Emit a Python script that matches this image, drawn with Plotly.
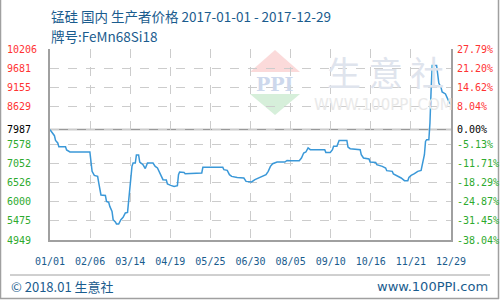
import plotly.graph_objects as go
import pandas as pd

# ---------------- data ----------------
dates = [
    "2017-01-01", "2017-01-03", "2017-01-05", "2017-01-06", "2017-01-08", "2017-01-09",
    "2017-01-15", "2017-01-16", "2017-01-19", "2017-02-06", "2017-02-07", "2017-02-08",
    "2017-02-10", "2017-02-13", "2017-02-14", "2017-02-15", "2017-02-16", "2017-02-20",
    "2017-02-21", "2017-02-23", "2017-02-24", "2017-02-26", "2017-02-27", "2017-03-01",
    "2017-03-02", "2017-03-04", "2017-03-06", "2017-03-08", "2017-03-10", "2017-03-12",
    "2017-03-13", "2017-03-14", "2017-03-15", "2017-03-16", "2017-03-17", "2017-03-19",
    "2017-03-20", "2017-03-22", "2017-03-23", "2017-03-26", "2017-03-28", "2017-03-30",
    "2017-04-04", "2017-04-06", "2017-04-08", "2017-04-10", "2017-04-11", "2017-04-13",
    "2017-04-16", "2017-04-17", "2017-04-20", "2017-04-23", "2017-04-26", "2017-04-27",
    "2017-04-28", "2017-05-02", "2017-05-03", "2017-05-09", "2017-05-10", "2017-05-18",
    "2017-05-19", "2017-06-06", "2017-06-07", "2017-06-10", "2017-06-12", "2017-06-14",
    "2017-06-19", "2017-06-25", "2017-06-27", "2017-07-02", "2017-07-05", "2017-07-07",
    "2017-07-10", "2017-07-15", "2017-07-17", "2017-07-19", "2017-07-21", "2017-07-25",
    "2017-08-01", "2017-08-03", "2017-08-06", "2017-08-14", "2017-08-16", "2017-08-18",
    "2017-08-20", "2017-08-22", "2017-08-24", "2017-09-06", "2017-09-07", "2017-09-11",
    "2017-09-13", "2017-09-14", "2017-09-17", "2017-09-19", "2017-09-26", "2017-09-27",
    "2017-09-29", "2017-10-08", "2017-10-09", "2017-10-11", "2017-10-16", "2017-10-17",
    "2017-10-22", "2017-10-23", "2017-10-28", "2017-10-31", "2017-11-01", "2017-11-06",
    "2017-11-07", "2017-11-10", "2017-11-14", "2017-11-17", "2017-11-20", "2017-11-21",
    "2017-11-23", "2017-11-26", "2017-11-29", "2017-12-02", "2017-12-03", "2017-12-05",
    "2017-12-06", "2017-12-07", "2017-12-09", "2017-12-10", "2017-12-11", "2017-12-12",
    "2017-12-16", "2017-12-17", "2017-12-18", "2017-12-20", "2017-12-21", "2017-12-24",
    "2017-12-26", "2017-12-27", "2017-12-29",
]
prices = [
    7987, 7894, 7820, 7691, 7619, 7517,
    7517, 7426, 7371, 7371, 7113, 6838,
    6727, 6700, 6518, 6306, 6188, 6177,
    6012, 5984, 5874, 5737, 5508, 5445,
    5390, 5390, 5508, 5572, 5693, 5709,
    6059, 6334, 6774, 6975, 7069, 7069,
    7289, 7289, 7090, 7020, 6915, 7069,
    7069, 6975, 6931, 6794, 6727, 6609,
    6601, 6491, 6452, 6425, 6444, 6747,
    6821, 6810, 6774, 6774, 6794, 6794,
    6948, 6948, 6884, 6865, 6747, 6700,
    6672, 6656, 6562, 6546, 6609, 6637,
    6660, 6747, 6838, 6975, 7049, 7096,
    7096, 7140, 7132, 7132, 7206, 7344,
    7371, 7482, 7435, 7435, 7360, 7360,
    7435, 7526, 7526, 7691, 7691, 7509,
    7462, 7435, 7297, 7206, 7179, 7096,
    7085, 7022, 6975, 6931, 6857, 6838,
    6766, 6727, 6656, 6582, 6582, 6672,
    6727, 6774, 6838, 6865, 7022, 7297,
    7663, 7710, 7710, 8170, 9039, 9755,
    9755, 9518, 9270, 9149, 9023, 8968,
    8811, 8764, 8673,
]

x_start = "2017-01-01"
x_end = "2017-12-29"
x_tick_labels = ["01/01", "02/06", "03/14", "04/19", "05/25", "06/30",
                 "08/05", "09/10", "10/16", "11/21", "12/29"]

base_price = 7987
y_tick_values = [10206, 9681, 9155, 8629, 7987, 7578, 7052, 6526, 6000, 5475, 4949]
y_right_labels = ["27.79%", "21.20%", "14.62%", "8.04%", "0.00%", "-5.13%",
                  "-11.71%", "-18.29%", "-24.87%", "-31.45%", "-38.04%"]

title_line1 = "锰硅 国内 生产者价格 2017-01-01 - 2017-12-29"
title_line2 = "牌号:FeMn68Si18"
footer_left = "© 2018.01 生意社"
footer_right = "www.100PPI.com"
wm_text = "生 意 社"
wm_url = "WWW.100PPI.COM"

# ---------------- layout helpers (pixel -> paper) ----------------
W, H = 500, 300
L, R, T, B = 50, 49, 49, 60
PW, PH = W - L - R, H - T - B


def px(x):
    return (x - L) / PW


def py(y):
    return (H - B - y) / PH


BLUE_TXT = "#1a5c8e"
RED = "#ff3333"
GREEN = "#2eaa2e"
MONO = "DejaVu Sans Mono"
CJK = "Noto Sans CJK SC"

tick_positions = pd.date_range(x_start, x_end, periods=len(x_tick_labels))

fig = go.Figure()
fig.add_trace(go.Scatter(
    x=dates, y=prices, mode="lines",
    line=dict(color="#3a98d8", width=1.5),
    hoverinfo="skip", showlegend=False,
))

annotations = []
for v, lab in zip(y_tick_values, y_right_labels):
    col = RED if v > base_price else ("#000000" if v == base_price else GREEN)
    annotations.append(dict(x=px(5), y=v, xref="paper", yref="y", text=str(v),
                            xanchor="left", yanchor="middle", showarrow=False,
                            font=dict(family=MONO, size=10, color=col)))
    annotations.append(dict(x=px(455), y=v, xref="paper", yref="y", text=lab,
                            xanchor="left", yanchor="middle", showarrow=False,
                            font=dict(family=MONO, size=10, color=col)))

annotations += [
    dict(x=px(49), y=py(16), xref="paper", yref="paper", text=title_line1,
         xanchor="left", yanchor="middle", showarrow=False,
         font=dict(family=CJK, size=13.5, color=BLUE_TXT)),
    dict(x=px(49), y=py(36), xref="paper", yref="paper", text=title_line2,
         xanchor="left", yanchor="middle", showarrow=False,
         font=dict(family=CJK, size=13.5, color=BLUE_TXT)),
    dict(x=px(9), y=py(286), xref="paper", yref="paper", text=footer_left,
         xanchor="left", yanchor="middle", showarrow=False,
         font=dict(family=CJK, size=13, color=BLUE_TXT)),
    dict(x=px(490), y=py(286), xref="paper", yref="paper", text=footer_right,
         xanchor="right", yanchor="middle", showarrow=False,
         font=dict(family="DejaVu Sans", size=13, color=BLUE_TXT)),
    dict(x=px(385), y=py(71), xref="paper", yref="paper", text=wm_text,
         xanchor="center", yanchor="middle", showarrow=False,
         font=dict(family=CJK, size=34, color="#dfe4ed")),
    dict(x=px(383), y=py(105), xref="paper", yref="paper", text=wm_url,
         xanchor="center", yanchor="middle", showarrow=False,
         font=dict(family="DejaVu Sans", size=15, color="#e9e9e9")),
    dict(x=px(275), y=py(84), xref="paper", yref="paper", text="<b>PPI</b>",
         xanchor="center", yanchor="middle", showarrow=False,
         font=dict(family="DejaVu Serif", size=19, color="#cdd8ec")),
]


def path(points):
    return "M " + " L ".join(f"{px(a)},{py(b)}" for a, b in points) + " Z"


shapes = [
    dict(type="path", xref="paper", yref="paper", layer="below",
         path=path([(250, 72), (275, 50), (300, 72)]),
         fillcolor="#fbdada", line=dict(width=0)),
    dict(type="path", xref="paper", yref="paper", layer="below",
         path=path([(250, 94), (300, 94), (275, 115)]),
         fillcolor="#d6efda", line=dict(width=0)),
    # baseline (first price)
    dict(type="line", xref="paper", yref="y", x0=0, x1=1, y0=base_price, y1=base_price,
         line=dict(color="#999999", width=1.5), layer="below"),
    # outer frame: left, right, bottom
    dict(type="line", xref="paper", yref="paper", x0=px(0.5), x1=px(0.5), y0=py(0), y1=py(299),
         line=dict(color="#a0a0a0", width=1.5)),
    dict(type="line", xref="paper", yref="paper", x0=px(498.5), x1=px(498.5), y0=py(0), y1=py(299),
         line=dict(color="#a0a0a0", width=1.5)),
    dict(type="line", xref="paper", yref="paper", x0=px(0), x1=px(499), y0=py(298.5), y1=py(298.5),
         line=dict(color="#a0a0a0", width=1.5)),
    # footer separator
    dict(type="line", xref="paper", yref="paper", x0=px(10), x1=px(490), y0=py(275), y1=py(275),
         line=dict(color="#a0a0a0", width=1)),
]

fig.update_layout(
    width=W, height=H,
    margin=dict(l=L, r=R, t=T, b=B),
    paper_bgcolor="white", plot_bgcolor="white",
    showlegend=False,
    annotations=annotations,
    shapes=shapes,
    xaxis=dict(
        type="date", range=[x_start, x_end],
        tickmode="array", tickvals=tick_positions, ticktext=x_tick_labels,
        showgrid=True, gridcolor="#cccccc", griddash="dash", gridwidth=1,
        showline=True, linecolor="#a0a0a0", linewidth=1.5, mirror=False,
        ticks="outside", ticklen=11, tickcolor="rgba(0,0,0,0)",
        tickfont=dict(family=MONO, size=10, color=BLUE_TXT),
        zeroline=False, fixedrange=True,
    ),
    yaxis=dict(
        range=[y_tick_values[-1], y_tick_values[0]],
        tickmode="array", tickvals=y_tick_values,
        showticklabels=False,
        showgrid=True, gridcolor="#cccccc", griddash="dash", gridwidth=1,
        showline=True, linecolor="#a0a0a0", linewidth=1.5, mirror=True,
        zeroline=False, fixedrange=True,
    ),
)

fig.write_html("out.html")
